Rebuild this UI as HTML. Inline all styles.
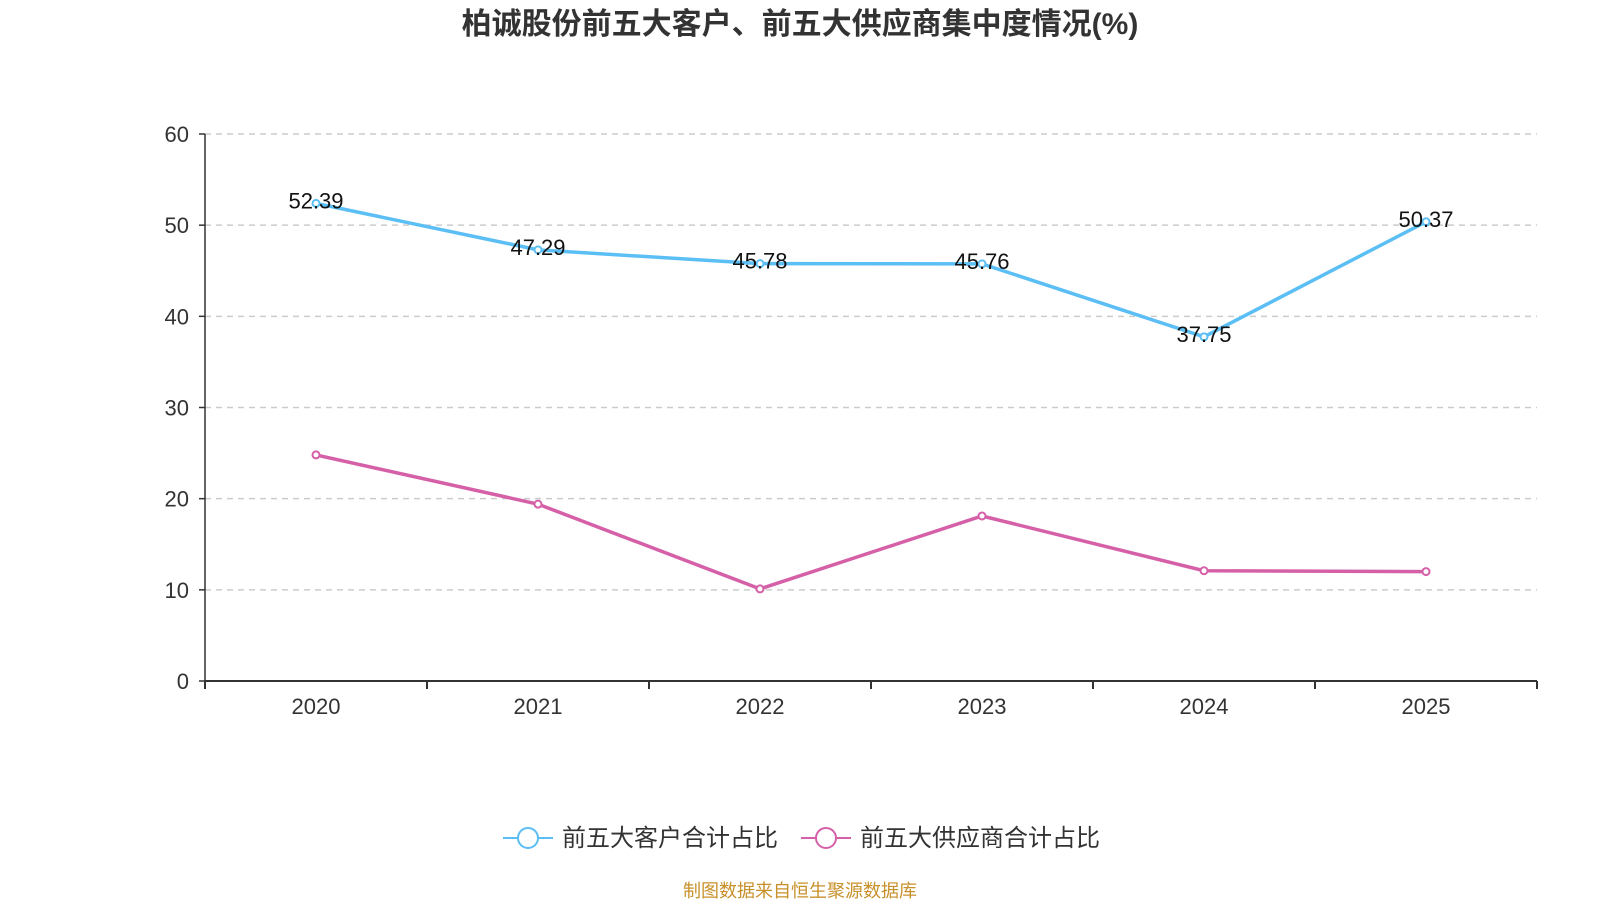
<!DOCTYPE html>
<html><head><meta charset="utf-8"><style>
body{margin:0;background:#fff;width:1600px;height:900px;overflow:hidden;font-family:"Liberation Sans","Noto Sans CJK SC",sans-serif}
</style></head><body>
<svg id="c" width="1600" height="900" xmlns="http://www.w3.org/2000/svg" font-family="Liberation Sans, Noto Sans CJK SC, sans-serif">
<text x="800" y="34" text-anchor="middle" font-size="30" font-weight="bold" fill="#333">柏诚股份前五大客户、前五大供应商集中度情况(%)</text>
<g id="grid"></g><g id="axes"></g><g id="series"></g>
<g>
<g>
<line x1="503" y1="838" x2="553" y2="838" stroke="#5bbff5" stroke-width="2"/><circle cx="528" cy="838" r="10" fill="#fff" stroke="#5bbff5" stroke-width="2"/>
<text x="562" y="846" font-size="24" fill="#333">前五大客户合计占比</text></g>
<g>
<line x1="801" y1="838" x2="851" y2="838" stroke="#d660a8" stroke-width="2"/><circle cx="826" cy="838" r="10" fill="#fff" stroke="#d660a8" stroke-width="2"/>
<text x="860" y="846" font-size="24" fill="#333">前五大供应商合计占比</text></g>
</g>
<text x="800" y="897" text-anchor="middle" font-size="18" fill="#c8902a">制图数据来自恒生聚源数据库</text>
</svg>
<script>
const categories=["2020","2021","2022","2023","2024","2025"];
const customers=[52.39,47.29,45.78,45.76,37.75,50.37];
const suppliers=[24.8,19.4,10.1,18.1,12.1,12.0];
const yTicks=[0,10,20,30,40,50,60];
const NS="http://www.w3.org/2000/svg";
const X0=205,X1=1537,Y0=681,Y1=134,yMax=60;
const bw=(X1-X0)/categories.length;
const xs=i=>X0+bw*(i+0.5);
const ys=v=>Y0-(v/yMax)*(Y0-Y1);
function mk(tag,attrs,parent,txt){const e=document.createElementNS(NS,tag);for(const k in attrs)e.setAttribute(k,attrs[k]);if(txt!==undefined)e.textContent=txt;parent.appendChild(e);return e;}
const grid=document.getElementById('grid'),axes=document.getElementById('axes'),ser=document.getElementById('series');
yTicks.forEach(t=>{
 if(t>0){const l=mk('line',{x1:X0,x2:X1,y1:ys(t),y2:ys(t),stroke:'#ccc','stroke-dasharray':'6,5','stroke-width':1.5},grid);
 
 }
 const tk=mk('line',{x1:X0-6,x2:X0,y1:ys(t),y2:ys(t),stroke:'#333','stroke-width':1.5},axes);
 const tx=mk('text',{x:X0-16,y:ys(t)+8,'text-anchor':'end','font-size':22,fill:'#333'},axes,t);
 
 
});
mk('line',{x1:X0,x2:X0,y1:Y1,y2:Y0,stroke:'#333','stroke-width':1.5},axes);
mk('line',{x1:X0,x2:X1,y1:Y0,y2:Y0,stroke:'#333','stroke-width':2},axes);
for(let i=0;i<=categories.length;i++)mk('line',{x1:X0+bw*i,x2:X0+bw*i,y1:Y0,y2:Y0+8,stroke:'#333','stroke-width':2},axes);
categories.forEach((c,i)=>{const t=mk('text',{x:xs(i),y:Y0+33,'text-anchor':'middle','font-size':22,fill:'#333'},axes,c);
 
 });
function draw(vals,color,name,labels){
 const p=mk('polyline',{points:vals.map((v,i)=>xs(i)+','+ys(v)).join(' '),fill:'none',stroke:color,'stroke-width':3.5},ser);
 
 
 vals.forEach((v,i)=>{const c=mk('circle',{cx:xs(i),cy:ys(v),r:3.5,fill:'#fff',stroke:color,'stroke-width':2},ser);
  
  
  if(labels){const t=mk('text',{x:xs(i),y:ys(v)+5,'text-anchor':'middle','font-size':22,fill:'#111'},ser,v.toFixed(2));
  
  }
 });
}
draw(suppliers,'#d660a8','suppliers',false);
draw(customers,'#5bbff5','customers',true);
</script>
</body></html>
